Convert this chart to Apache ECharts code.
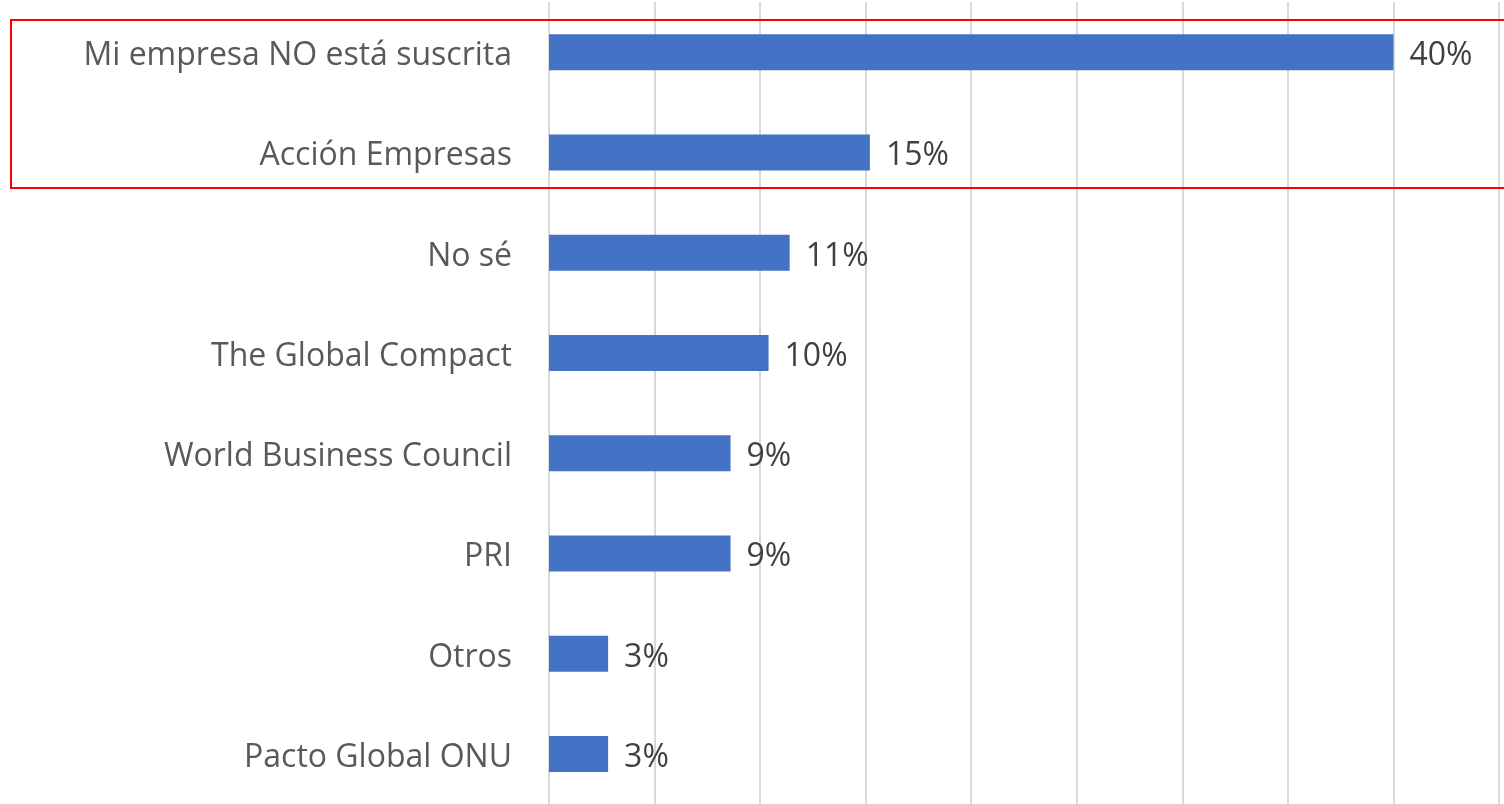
<!DOCTYPE html>
<html>
<head>
<meta charset="utf-8">
<script src="https://cdn.jsdelivr.net/npm/echarts@6/dist/echarts.min.js"></script>
<style>
  html, body { margin: 0; padding: 0; background: #fff; }
  #container { width: 1504px; height: 804px; }
</style>
</head>
<body>
<div id="container"></div>
<script>
var categories = [
  'Mi empresa NO está suscrita',
  'Acción Empresas',
  'No sé',
  'The Global Compact',
  'World Business Council',
  'PRI',
  'Otros',
  'Pacto Global ONU'
];
var shares = [40.0, 15.2, 11.4, 10.4, 8.6, 8.6, 2.8, 2.8];

var dom = document.getElementById('container');
var myChart = echarts.init(dom, null, { renderer: 'canvas' });

var font = '"Open Sans", "Noto Sans", sans-serif';

var option = {
  animation: false,
  grid: {
    left: 549,
    right: 5,
    top: 2,
    height: 806
  },
  xAxis: {
    type: 'value',
    min: 0,
    max: 45,
    interval: 5,
    axisLabel: { show: false },
    axisLine: { show: false },
    axisTick: { show: false },
    splitLine: { lineStyle: { color: '#D9D9D9', width: 2 } }
  },
  yAxis: {
    type: 'category',
    inverse: true,
    data: categories,
    axisLine: { show: false },
    axisTick: { show: false },
    axisLabel: {
      margin: 37,
      fontSize: 32,
      fontFamily: font,
      color: '#595959',
      // small line box anchored at its top pushes the text a few px down
      verticalAlign: 'top',
      lineHeight: 8
    }
  },
  series: [
    {
      type: 'bar',
      data: shares,
      barWidth: 36,
      itemStyle: { color: '#4472C4' },
      label: {
        show: true,
        position: 'right',
        distance: 16,
        offset: [0, 4],
        fontSize: 32,
        fontFamily: font,
        color: '#404040',
        formatter: function (p) { return Math.round(p.value) + '%'; }
      }
    }
  ],
  graphic: [
    {
      type: 'rect',
      shape: { x: 11, y: 20, width: 1500, height: 168 },
      style: { fill: 'none', stroke: '#FF0000', lineWidth: 2 },
      z: 100
    }
  ]
};

myChart.setOption(option);
window.addEventListener('resize', myChart.resize);
</script>
</body>
</html>
